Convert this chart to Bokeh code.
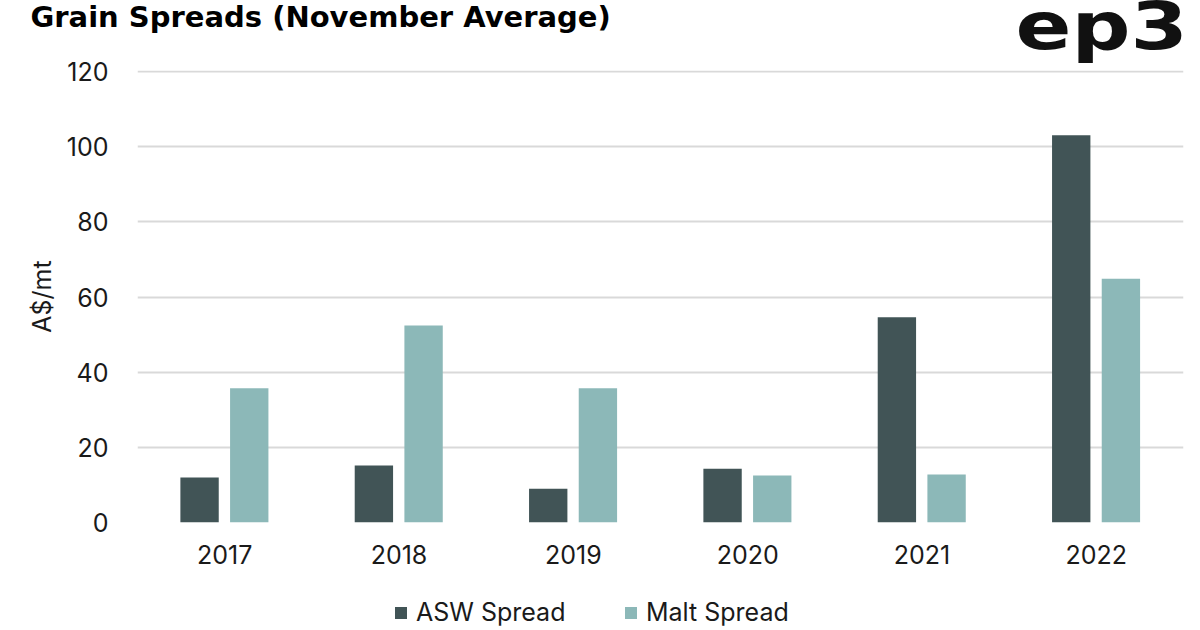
from bokeh.plotting import figure
from bokeh.models import ColumnDataSource, Legend, LegendItem, FactorRange, Title, Div, Range1d
from bokeh.layouts import column
from bokeh.transform import dodge
from bokeh.embed import file_html
from bokeh.resources import INLINE

years = ["2017", "2018", "2019", "2020", "2021", "2022"]
asw_spread = [12.0, 15.2, 9.0, 14.3, 54.6, 103.1]
malt_spread = [35.7, 52.4, 35.7, 12.5, 12.8, 64.9]
series_names = ["ASW Spread", "Malt Spread"]

FONT = "Inter"
ASW_COLOR = "#415456"
MALT_COLOR = "#8cb8b8"
TXT = "#1a1a1a"

src = ColumnDataSource(dict(year=years, asw=asw_spread, malt=malt_spread))
xr = FactorRange(*years, range_padding=0)

# ---- main chart ----
p = figure(width=1200, height=590, x_range=xr,
           y_range=(0, 120.3), output_backend="svg", toolbar_location=None,
           min_border_left=137, min_border_right=17, min_border_top=70, min_border_bottom=68)
p.outline_line_color = None
p.background_fill_color = "white"

p.vbar(x=dodge("year", -0.144, range=xr), top="asw", width=0.22,
       source=src, fill_color=ASW_COLOR, line_color=None)
p.vbar(x=dodge("year", 0.141, range=xr), top="malt", width=0.22,
       source=src, fill_color=MALT_COLOR, line_color=None)

p.xgrid.grid_line_color = None
p.ygrid.grid_line_color = "#d9d9d9"
p.ygrid.grid_line_width = 2
p.yaxis.ticker = [0, 20, 40, 60, 80, 100, 120]
p.yaxis.axis_line_color = None
p.yaxis.major_tick_line_color = None
p.yaxis.major_tick_out = 0
p.yaxis.minor_tick_line_color = None
p.yaxis.minor_tick_out = 0
p.yaxis.major_label_standoff = 29
p.yaxis.major_label_text_font = FONT
p.yaxis.major_label_text_font_size = "25px"
p.yaxis.major_label_text_color = TXT
p.yaxis.axis_label = "A$/mt"
p.yaxis.axis_label_text_font = FONT
p.yaxis.axis_label_text_font_size = "25px"
p.yaxis.axis_label_text_font_style = "normal"
p.yaxis.axis_label_text_color = TXT
p.yaxis.axis_label_standoff = 7

p.xaxis.axis_line_color = None
p.xaxis.major_tick_line_color = None
p.xaxis.major_tick_out = 0
p.xaxis.minor_tick_out = 0
p.xaxis.major_label_standoff = 22
p.xaxis.major_label_text_font = FONT
p.xaxis.major_label_text_font_size = "25px"
p.xaxis.major_label_text_color = TXT

spacer = Title(text=" ", text_font="DejaVu Sans", text_font_size="27px", standoff=9)
p.add_layout(spacer, "above")
title = Title(text="Grain Spreads (November Average)", text_font="DejaVu Sans",
              text_font_style="bold", text_font_size="29px", text_color="black",
              align="left", vertical_align="bottom", offset=-107, standoff=-10)
p.add_layout(title, "above")

# ---- legend strip (proxy renderers share the series data, kept out of view) ----
lg = figure(width=1200, height=40, output_backend="svg", toolbar_location=None,
            x_range=xr, y_range=Range1d(1000, 1001),
            x_axis_location=None, y_axis_location=None,
            min_border_left=0, min_border_right=0, min_border_top=0, min_border_bottom=0)
lg.outline_line_color = None
lg.grid.visible = False
k1 = lg.vbar(x=dodge("year", -0.144, range=xr), top="asw", width=0.22,
             source=src, fill_color=ASW_COLOR, line_color=None)
k2 = lg.vbar(x=dodge("year", 0.141, range=xr), top="malt", width=0.22,
             source=src, fill_color=MALT_COLOR, line_color=None)
legend = Legend(items=[LegendItem(label=series_names[0], renderers=[k1]),
                       LegendItem(label=series_names[1], renderers=[k2])],
                orientation="horizontal", location=(256, 3),
                label_text_font=FONT, label_text_font_size="25px", label_text_color=TXT,
                label_width=169,
                glyph_width=15, glyph_height=15, spacing=38, label_standoff=8,
                border_line_color=None, background_fill_alpha=0, padding=0, margin=0)
lg.add_layout(legend, "center")

# ---- logo ----
logo = Div(text=('<div style="position:absolute; top:2px; right:17px; '
                 "font-family:'DejaVu Sans'; font-weight:bold; font-size:66px; "
                 'line-height:40px; color:#111111; transform:scaleX(1.25); '
                 'transform-origin:right top; white-space:nowrap;">ep3</div>'),
           width=200, height=80,
           styles={"position": "fixed", "top": "0px", "left": "1000px", "z-index": "10"})

open("out.html", "w").write(file_html(column(p, lg, logo), INLINE))
